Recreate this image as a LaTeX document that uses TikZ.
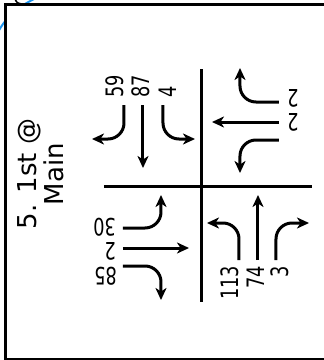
\documentclass[tikz,border=0pt]{standalone}
\usepackage{fontspec}
\setmainfont{DejaVu Sans}
\usetikzlibrary{arrows.meta}
\definecolor{pinblue}{RGB}{30,150,240}
\newcommand\nmb[1]{\scalebox{0.74}[1]{#1}}
\tikzset{
  frame/.style={line width=3pt},
  road/.style={line width=3pt},
  mv/.style={line width=3pt, rounded corners=16pt, -{Stealth[length=12pt,width=11pt,inset=3.5pt]}},
  lbl/.style={font=\fontsize{24}{28}\selectfont, inner sep=0pt},
}
\begin{document}
\begin{tikzpicture}[x=1pt,y=-1pt]
\path[use as bounding box] (0,0) rectangle (324,360);
% fragments at top-left corner
\draw[pinblue, line width=2pt] (-2,32) .. controls (8,14) and (20,6) .. (36,-2);
\draw[line width=1.5pt] (15,-1) .. controls (17,3) .. (22,4);
% frame (open on the right, running past the picture edge)
\fill[white] (6,4.5) rectangle (324,359.5);
\draw[frame] (324,4.5) -- (6,4.5) -- (6,359.5) -- (324,359.5);
% title
\node[rotate=90, align=center, font=\fontsize{26}{27}\selectfont, inner sep=0pt] (title) at (41,174) {5. 1st @\\Main};
% roads
\draw[road] (202,69) -- (202,302);
\draw[road] (104,186.7) -- (312,186.7);
% north approach
\draw[mv] (124,105) -- (124,139) -- (92,139);
\draw[mv] (143,105) -- (143,168);
\draw[mv] (163,105) -- (163,139) -- (195,139);
\node[lbl, rotate=90, anchor=west] (n1) at (115,97.5) {\nmb{59}};
\node[lbl, rotate=90, anchor=west] (n2) at (141,97.5) {\nmb{87}};
\node[lbl, rotate=90, anchor=west] (n3) at (168,97.5) {\nmb{4}};
% east approach
\draw[mv] (279,102) -- (240,102) -- (240,68);
\draw[mv] (279,122) -- (212,122);
\draw[mv] (279,140) -- (240,140) -- (240,173);
\node[lbl, rotate=180] (e1) at (293,98) {\nmb{2}};
\node[lbl, rotate=180] (e2) at (293,122) {\nmb{2}};
% south approach
\draw[mv] (239,260) -- (239,223) -- (207,223);
\draw[mv] (258,260) -- (258,195);
\draw[mv] (276,260) -- (276,223) -- (309,223);
\node[lbl, rotate=90, anchor=east] (s1) at (229.5,265.5) {\nmb{113}};
\node[lbl, rotate=90, anchor=east] (s2) at (256,265.5) {\nmb{74}};
\node[lbl, rotate=90, anchor=east] (s3) at (280,265.5) {\nmb{3}};
% west approach
\draw[mv] (123,228) -- (161,228) -- (161,195);
\draw[mv] (123,248) -- (189,248);
\draw[mv] (123,266) -- (161,266) -- (161,300);
\node[lbl, rotate=180, anchor=west] (w1) at (116,227) {\nmb{30}};
\node[lbl, rotate=180, anchor=west] (w2) at (116,251) {\nmb{2}};
\node[lbl, rotate=180, anchor=west] (w3) at (117,276) {\nmb{85}};
\end{tikzpicture}
\end{document}
